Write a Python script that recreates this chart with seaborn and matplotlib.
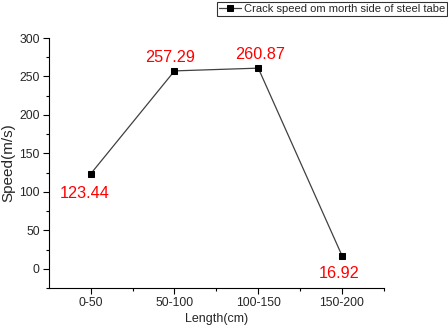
import numpy as np
import pandas as pd
import seaborn as sns
import matplotlib.pyplot as plt
from matplotlib.ticker import MultipleLocator, FixedLocator

# Datos
tramos = ["0-50", "50-100", "100-150", "150-200"]
velocidad = [123.44, 257.29, 260.87, 16.92]
etiqueta = "Crack speed om morth side of steel tabe"

df = pd.DataFrame({"pos": np.arange(len(tramos)), "vel": velocidad})

sns.set_style("ticks")
plt.rcParams['font.family'] = ['Liberation Sans', 'DejaVu Sans']

fig = plt.figure(figsize=(4.48, 3.28), dpi=100)
ax = fig.add_axes([0.109, 0.122, 0.748, 0.762])

sns.lineplot(data=df, x="pos", y="vel", ax=ax, color="#404040", linewidth=0.9,
             marker="s", markersize=4.5, markerfacecolor="black",
             markeredgecolor="black", label=etiqueta, legend=False)

# Etiquetas rojas con los valores
desplaz = [(-4, -14.5), (-3, 9.5), (1, 9.5), (-2, -12.5)]
for i, v in enumerate(velocidad):
    ax.annotate(f"{v:.2f}", (i, v), xytext=desplaz[i], textcoords="offset points",
                ha="center", va="center", color="red", fontsize=11.7)

ax.set_xlim(-0.5, 3.5)
ax.set_ylim(-25, 300)
ax.set_xticks(range(len(tramos)))
ax.set_xticklabels(tramos)
ax.xaxis.set_minor_locator(FixedLocator([0.5, 1.5, 2.5, 3.5]))
ax.yaxis.set_major_locator(MultipleLocator(50))
ax.yaxis.set_minor_locator(MultipleLocator(25))
ax.tick_params(axis="both", which="major", labelsize=8.8, length=4, width=0.8,
               color="black", pad=2.5)
ax.tick_params(axis="both", which="minor", length=2.5, width=0.8, color="black")
for s in ["left", "bottom"]:
    ax.spines[s].set_color("black")
    ax.spines[s].set_linewidth(0.8)
sns.despine(ax=ax)

ax.set_xlabel("Length(cm)", fontsize=9, labelpad=3)
ax.set_ylabel("Speed(m/s)", fontsize=11, labelpad=3)

handles, labels = ax.get_legend_handles_labels()
leg = fig.legend(handles, labels, loc="upper right", bbox_to_anchor=(0.998, 0.995),
                 fontsize=8, frameon=True, fancybox=False, borderpad=0.2,
                 handlelength=2, handletextpad=0.2, borderaxespad=0)
leg.get_frame().set_edgecolor("black")
leg.get_frame().set_linewidth(0.8)

fig.savefig("out.png", dpi=100)
